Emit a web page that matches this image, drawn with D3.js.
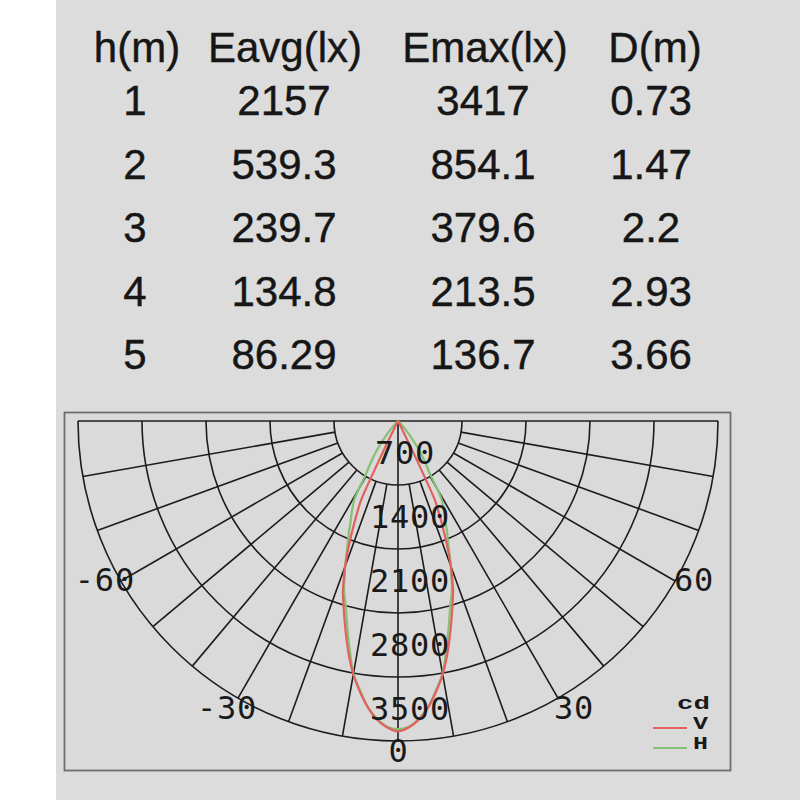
<!DOCTYPE html>
<html>
<head>
<meta charset="utf-8">
<script src="https://cdn.jsdelivr.net/npm/d3@7"></script>
<style>
  html, body { margin: 0; padding: 0; background: #ffffff; }
  svg { display: block; }
</style>
</head>
<body>
<svg id="chart" width="800" height="800"></svg>
<script>
// ---------- data ----------
const tableHeaders = ["h(m)", "Eavg(lx)", "Emax(lx)", "D(m)"];
const heights = ["1", "2", "3", "4", "5"];
const eavg = ["2157", "539.3", "239.7", "134.8", "86.29"];
const emax = ["3417", "854.1", "379.6", "213.5", "136.7"];
const dist = ["0.73", "1.47", "2.2", "2.93", "3.66"];

const ringValues = [700, 1400, 2100, 2800, 3500];
const angleTicks = d3.range(-90, 91, 10);
const angleLabels = [-60, -30, 30, 60];

// V plane (red): angle from nadir (deg) -> intensity (cd)
const vAngles = [0, 2, 4, 6, 8, 10, 12, 14, 16, 18, 19, 20, 21, 22, 23, 24, 25, 25.5, 26, 26.5, 27];
const vValues = [3395, 3355, 3275, 3150, 2990, 2815, 2600, 2370, 2150, 1950, 1820, 1690, 1540, 1390, 1240, 1100, 950, 650, 330, 100, 0];
// H plane (green)
const hAngles = [0, 2, 4, 6, 8, 10, 12, 14, 16, 17, 18, 19, 20, 21, 22, 23, 24, 25, 26, 27, 28, 29, 30, 31, 33, 35, 37, 40, 44, 50];
const hValues = [3370, 3345, 3265, 3145, 2975, 2805, 2545, 2300, 2080, 2000, 1910, 1790, 1690, 1580, 1480, 1390, 1320, 1230, 1170, 1110, 1050, 990, 850, 690, 560, 450, 330, 180, 60, 0];

const legendItems = ["V", "H"];

// ---------- layout ----------
const svg = d3.select("#chart");
svg.append("rect").attr("x", 56).attr("y", 0).attr("width", 744).attr("height", 800).attr("fill", "#dcdcdc");

// table
const colX = [137, 285, 485, 655];
const valX = [135, 284, 483, 651];
const rowY = d3.scaleLinear().domain([0, 4]).range([115, 369]);
const tableFont = "'Liberation Sans', Arial, sans-serif";

svg.append("g").selectAll("text").data(tableHeaders).join("text")
  .attr("x", (d, i) => colX[i]).attr("y", 62)
  .attr("text-anchor", "middle")
  .attr("font-family", tableFont).attr("font-size", 42).attr("fill", "#161616")
  .attr("stroke", "#161616").attr("stroke-width", 0.4)
  .text(d => d);

const columns = [heights, eavg, emax, dist];
columns.forEach((col, ci) => {
  svg.append("g").selectAll("text").data(col).join("text")
    .attr("x", valX[ci]).attr("y", (d, i) => rowY(i))
    .attr("text-anchor", "middle")
    .attr("font-family", tableFont).attr("font-size", 42).attr("fill", "#161616")
    .attr("stroke", "#161616").attr("stroke-width", 0.4)
    .text(d => d);
});

// polar box
svg.append("rect").attr("x", 64.5).attr("y", 412.5).attr("width", 666).attr("height", 358)
  .attr("fill", "#dadada").attr("stroke", "#6e6e6e").attr("stroke-width", 1.8);

const cx = 398, cy = 421;
const r = d3.scaleLinear().domain([0, 3500]).range([0, 320]);
const g = svg.append("g").attr("transform", `translate(${cx},${cy})`);
const toRad = a => a * Math.PI / 180;
const pt = (a, v) => [r(v) * Math.sin(toRad(a)), r(v) * Math.cos(toRad(a))];

const gridColor = "#1c1c1c";
// rings (bottom half circles)
g.append("g").selectAll("path").data(ringValues).join("path")
  .attr("d", v => { const p = d3.path(); p.moveTo(r(v), 0); p.arc(0, 0, r(v), 0, Math.PI, false); return p.toString(); })
  .attr("fill", "none").attr("stroke", gridColor).attr("stroke-width", 1.6);

// radial lines
g.append("g").selectAll("line").data(angleTicks).join("line")
  .attr("x1", a => pt(a, (a === 0 || Math.abs(a) === 90) ? 0 : ringValues[0])[0])
  .attr("y1", a => pt(a, (a === 0 || Math.abs(a) === 90) ? 0 : ringValues[0])[1])
  .attr("x2", a => pt(a, ringValues[4])[0])
  .attr("y2", a => pt(a, ringValues[4])[1])
  .attr("stroke", gridColor).attr("stroke-width", 1.6);

// curves
function curvePoints(angles, values) {
  const pts = [];
  for (let i = angles.length - 1; i >= 1; i--) pts.push({a: -angles[i], v: values[i]});
  for (let i = 0; i < angles.length; i++) pts.push({a: angles[i], v: values[i]});
  return pts;
}
const radial = d3.lineRadial()
  .angle(d => Math.PI - toRad(d.a))
  .radius(d => r(d.v))
  .curve(d3.curveCatmullRom.alpha(0.5));

g.append("path").datum(curvePoints(hAngles, hValues))
  .attr("d", radial).attr("fill", "none").attr("stroke", "#86c074").attr("stroke-width", 2.2);
g.append("path").datum(curvePoints(vAngles, vValues))
  .attr("d", radial).attr("fill", "none").attr("stroke", "#e4605f").attr("stroke-width", 2.2);

// ring labels
const numFont = "'DejaVu Sans Mono', monospace";
g.append("g").selectAll("text").data(ringValues).join("text")
  .attr("x", v => String(v).length * 5 - 8).attr("y", v => r(v) - r(350) + 11)
  .attr("text-anchor", "middle")
  .attr("font-family", numFont).attr("font-size", 32).attr("letter-spacing", 0.8)
  .attr("fill", "#1a1a1a")
  .text(d => d);
g.append("text").attr("x", 0).attr("y", r(3500) + 21)
  .attr("text-anchor", "middle")
  .attr("font-family", numFont).attr("font-size", 32).attr("fill", "#1a1a1a")
  .text("0");

// angle labels
const labelOffsets = {"-60": [-16, -1], "-30": [-11, 10], "30": [16, 10], "60": [19, -1]};
g.append("g").selectAll("text").data(angleLabels).join("text")
  .attr("x", a => pt(a, 3500)[0] + labelOffsets[a][0])
  .attr("y", a => pt(a, 3500)[1] + labelOffsets[a][1] + 11)
  .attr("text-anchor", "middle")
  .attr("font-family", numFont).attr("font-size", 32).attr("letter-spacing", 0.8)
  .attr("fill", "#1a1a1a")
  .text(d => d);

// legend
const legFont = "'Liberation Mono', 'Courier New', monospace";
svg.append("text").attr("x", 677).attr("y", 709)
  .attr("font-family", legFont).attr("font-weight", "bold").attr("font-size", 18)
  .attr("textLength", 33).attr("lengthAdjust", "spacingAndGlyphs")
  .attr("fill", "#1a1a1a").text("cd");
const legColors = ["#e4605f", "#86c074"];
legendItems.forEach((t, i) => {
  svg.append("line").attr("x1", 653).attr("x2", 687).attr("y1", 728 + i * 20).attr("y2", 728 + i * 20)
    .attr("stroke", legColors[i]).attr("stroke-width", 2);
  svg.append("text").attr("x", 693).attr("y", 728.5 + i * 20)
    .attr("font-family", legFont).attr("font-weight", "bold").attr("font-size", 18)
    .attr("textLength", 15).attr("lengthAdjust", "spacingAndGlyphs")
    .attr("fill", "#1a1a1a").text(t);
});
</script>
</body>
</html>
